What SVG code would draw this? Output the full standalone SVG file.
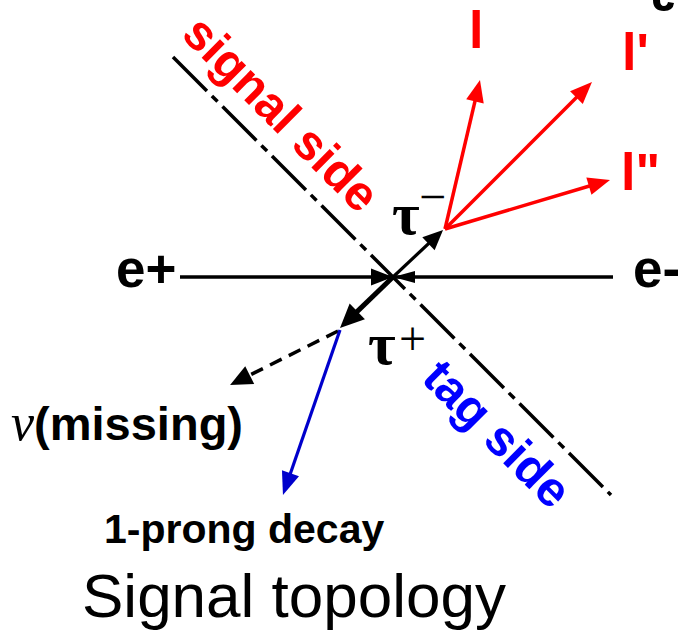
<svg xmlns="http://www.w3.org/2000/svg" width="682" height="636" viewBox="0 0 682 636">
<style>
.sans{font-family:"Liberation Sans",Arial,sans-serif}
.serif{font-family:"Liberation Serif","Times New Roman",serif}
.b{font-weight:bold}
.red{fill:#ff0000}
.blue{fill:#0000ff}
.blk{fill:#000000}
.ln{fill:none;stroke-linecap:butt}
</style>
<defs>
<marker id="arRed" markerUnits="userSpaceOnUse" markerWidth="40" markerHeight="40" refX="0" refY="0" orient="auto" overflow="visible">
<path d="M-12,-9 L10,0 L-12,9 Z" fill="#ff0000"/>
</marker>
<marker id="arBlkS" markerUnits="userSpaceOnUse" markerWidth="40" markerHeight="40" refX="0" refY="0" orient="auto" overflow="visible">
<path d="M-12,-9 L8,0 L-12,9 Z" fill="#000000"/>
</marker>
<marker id="arBlkL" markerUnits="userSpaceOnUse" markerWidth="40" markerHeight="40" refX="0" refY="0" orient="auto" overflow="visible">
<path d="M-14,-11 L10,0 L-14,11 Z" fill="#000000"/>
</marker>
<marker id="arBlkD" markerUnits="userSpaceOnUse" markerWidth="40" markerHeight="40" refX="0" refY="0" orient="auto" overflow="visible">
<path d="M-14,-10 L8,0 L-14,10 Z" fill="#000000"/>
</marker>
<marker id="arBlue" markerUnits="userSpaceOnUse" markerWidth="40" markerHeight="40" refX="0" refY="0" orient="auto" overflow="visible">
<path d="M-14,-9 L9,0 L-14,9 Z" fill="#0000cc"/>
</marker>
</defs>
<rect width="682" height="636" fill="#ffffff"/>

<g id="connectors">
<line id="divider" class="ln" x1="173" y1="57" x2="611" y2="495" stroke="#000" stroke-width="3.5" stroke-dasharray="48 7 8 7"/>
<line id="beam" class="ln" x1="180" y1="277" x2="613" y2="277" stroke="#000" stroke-width="3.4"/>
<polygon points="371,268.5 393,277 371,285.5" fill="#000"/>
<polygon points="415,271 393,277 415,283" fill="#000"/>
<line id="tau-minus" class="ln" x1="393" y1="277" x2="437.2" y2="235.5" stroke="#000" stroke-width="3.2" marker-end="url(#arBlkS)"/>
<line id="tau-plus" class="ln" x1="393" y1="277" x2="347.2" y2="321.1" stroke="#000" stroke-width="5" marker-end="url(#arBlkL)"/>
<line id="l1" class="ln" x1="445" y1="229" x2="477.7" y2="89.7" stroke="#ff0000" stroke-width="3.5" marker-end="url(#arRed)"/>
<line id="l2" class="ln" x1="445" y1="229" x2="584.9" y2="89.1" stroke="#ff0000" stroke-width="3.5" marker-end="url(#arRed)"/>
<line id="l3" class="ln" x1="445" y1="229" x2="600.4" y2="182.8" stroke="#ff0000" stroke-width="3.5" marker-end="url(#arRed)"/>
<line id="nu" class="ln" x1="338" y1="331" x2="237.2" y2="381.4" stroke="#000" stroke-width="3.5" stroke-dasharray="13 8" marker-end="url(#arBlkD)"/>
<line id="prong" class="ln" x1="340" y1="330" x2="285.9" y2="486.5" stroke="#0000cc" stroke-width="3.2" marker-end="url(#arBlue)"/>
</g>

<g id="label-signal-side">
<text class="sans b red" font-size="49" transform="translate(180,36) rotate(45)">signal side</text>
</g>
<g id="label-tag-side">
<text class="sans b blue" font-size="49" transform="translate(420,380) rotate(45)">tag side</text>
</g>
<g id="node-l"><text class="sans b red" font-size="52" x="469" y="48">l</text></g>
<g id="node-l1"><text class="sans b red" font-size="52" x="622" y="70">l'</text></g>
<g id="node-l2"><text class="sans b red" font-size="52" x="621" y="190">l"</text></g>
<g id="node-eplus"><text class="sans b blk" font-size="53" x="116" y="287">e+</text></g>
<g id="node-eminus"><text class="sans b blk" font-size="53" x="633" y="287">e-</text></g>
<g id="node-tauminus">
<text class="serif b blk" font-size="60" x="392" y="234">τ</text>
<text class="serif blk" font-size="48" x="419" y="213">−</text>
</g>
<g id="node-tauplus">
<text class="serif b blk" font-size="60" x="368" y="364">τ</text>
<text class="serif blk" font-size="48" x="399" y="355">+</text>
</g>
<g id="node-nu">
<text class="blk" font-size="47" x="11" y="440"><tspan class="serif" font-style="italic" font-size="52">ν</tspan><tspan class="sans b">(missing)</tspan></text>
</g>
<g id="node-prong"><text class="sans b blk" font-size="41" x="104" y="543">1-prong decay</text></g>
<g id="title"><text class="sans blk" font-size="62" x="82" y="617">Signal topology</text></g>
<path d="M653,0 Q653,11 664,11 Q673,11 674,3 L668,2 Q667,6 664,6 Q660,6 660,0 Z" fill="#000"/>
</svg>
